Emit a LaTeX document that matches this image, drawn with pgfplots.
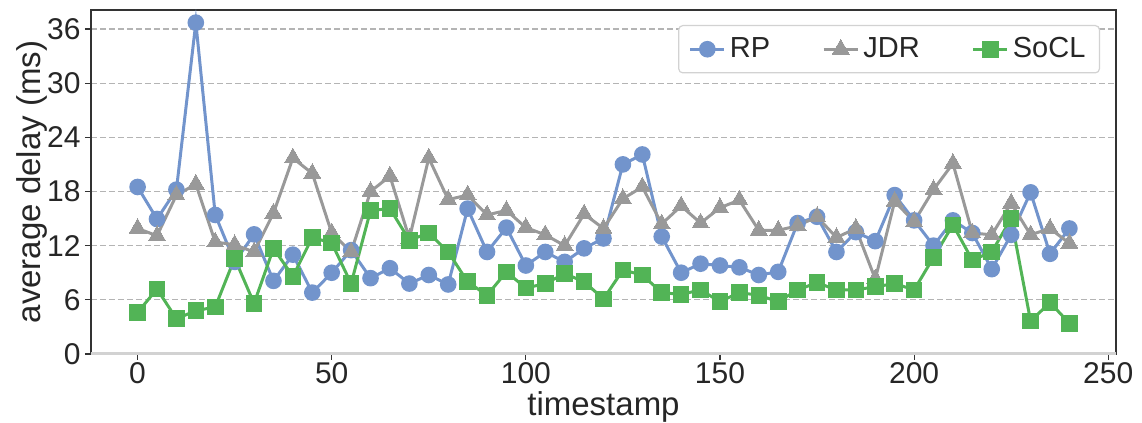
\documentclass[border=0pt]{standalone}
\usepackage{fontspec}
\setmainfont{Liberation Sans}
\usepackage{pgfplots}
\usepackage{pgfplotstable}
\pgfplotsset{compat=1.18}
\definecolor{cRP}{RGB}{114,148,204}
\definecolor{cJDR}{RGB}{153,153,153}
\definecolor{cSoCL}{RGB}{82,180,86}
\definecolor{spine}{RGB}{51,51,51}
\definecolor{gridc}{RGB}{180,180,180}
\definecolor{txt}{RGB}{38,38,38}

\pgfplotstableread{
x y
0 18.5
5 14.95
10 18.2
15 36.7
20 15.4
25 10.2
30 13.25
35 8.1
40 11.0
45 6.8
50 9.0
55 11.5
60 8.4
65 9.5
70 7.8
75 8.75
80 7.7
85 16.1
90 11.3
95 14.0
100 9.8
105 11.3
110 10.2
115 11.7
120 12.8
125 21.0
130 22.1
135 13.0
140 9.0
145 10.0
150 9.8
155 9.6
160 8.75
165 9.1
170 14.5
175 15.2
180 11.3
185 13.5
190 12.5
195 17.6
200 14.8
205 12.0
210 14.8
215 13.4
220 9.4
225 13.2
230 17.9
235 11.1
240 13.9
}\rp

\pgfplotstableread{
x y
0 13.9
5 13.1
10 17.6
15 18.8
20 12.4
25 12.1
30 11.3
35 15.6
40 21.7
45 20.0
50 13.4
55 11.3
60 18.0
65 19.7
70 12.8
75 21.7
80 17.1
85 17.6
90 15.4
95 15.9
100 14.0
105 13.2
110 12.0
115 15.5
120 13.9
125 17.2
130 18.5
135 14.4
140 16.4
145 14.5
150 16.2
155 17.05
160 13.7
165 13.7
170 14.2
175 15.2
180 12.9
185 13.9
190 8.3
195 16.9
200 14.65
205 18.2
210 21.1
215 13.4
220 13.2
225 16.7
230 13.2
235 13.9
240 12.25
}\jdr

\pgfplotstableread{
x y
0 4.6
5 7.2
10 3.9
15 4.8
20 5.2
25 10.6
30 5.6
35 11.7
40 8.6
45 12.9
50 12.3
55 7.8
60 15.9
65 16.1
70 12.6
75 13.4
80 11.3
85 8.0
90 6.5
95 9.1
100 7.3
105 7.8
110 8.9
115 8.0
120 6.1
125 9.3
130 8.75
135 6.8
140 6.6
145 7.1
150 5.8
155 6.8
160 6.5
165 5.8
170 7.1
175 7.9
180 7.1
185 7.1
190 7.45
195 7.8
200 7.1
205 10.7
210 14.3
215 10.4
220 11.3
225 15.0
230 3.65
235 5.7
240 3.4
}\socl

\begin{document}
\begin{tikzpicture}
\begin{axis}[
  name=ax,
  scale only axis,
  width=512.5pt, height=172pt,
  xmin=-12, xmax=252, ymin=0, ymax=38.1,
  xtick={0,50,...,250}, ytick={0,6,...,36},
  axis line style={spine, line width=1pt},
  tick align=outside, major tick length=3pt,
  tick style={spine, line width=0.6pt},
  xtick pos=lower, ytick pos=left,
  ymajorgrids,
  grid style={gridc, dash pattern=on 3pt off 1.5pt, line width=0.6pt},
  /pgf/number format/assume math mode=true,
  tick label style={font=\fontsize{15}{18}\selectfont, text=txt},
  xticklabel style={inner sep=0pt, yshift=-1pt},
  yticklabel style={inner sep=2pt},
  xlabel={timestamp}, ylabel={average delay (ms)},
  label style={font=\fontsize{16.5}{20}\selectfont, text=txt},
  xlabel style={at={(axis description cs:0.5,0)}, anchor=base, yshift=-31pt},
  ylabel style={at={(axis description cs:0,0.5)}, anchor=base, yshift=25pt},
  legend columns=3,
  legend cell align=left,
  legend style={at={(rel axis cs:1,1)}, anchor=north east, xshift=-8pt, yshift=-7.5pt,
    draw=gray!35, rounded corners=2pt, fill=white, line width=0.6pt,
    font=\fontsize{14.5}{17}\selectfont, text=txt,
    inner xsep=5pt, inner ysep=4pt,
    /tikz/every even column/.append style={column sep=24pt}},
]
\addplot[cRP, line width=1.5pt, mark=*, mark size=3.4pt, mark options={fill=cRP, draw=cRP}] table {\rp};
\addlegendentry{RP}
\addplot[cJDR, line width=1.5pt, mark=triangle*, mark size=4.9pt, mark options={fill=cJDR, draw=cJDR, line width=0pt}] table {\jdr};
\addlegendentry{JDR}
\addplot[cSoCL, line width=1.5pt, mark=square*, mark size=3.9pt, mark options={fill=cSoCL, draw=cSoCL, line width=0pt}] table {\socl};
\addlegendentry{SoCL}
\end{axis}
\draw[gray!35, line width=1.5pt] (ax.south west) -- (ax.south east);
\pgfresetboundingbox
\path ([shift={(-45.5pt,-34.5pt)}]ax.south west) rectangle ([shift={(13pt,5pt)}]ax.north east);
\end{tikzpicture}
\end{document}
